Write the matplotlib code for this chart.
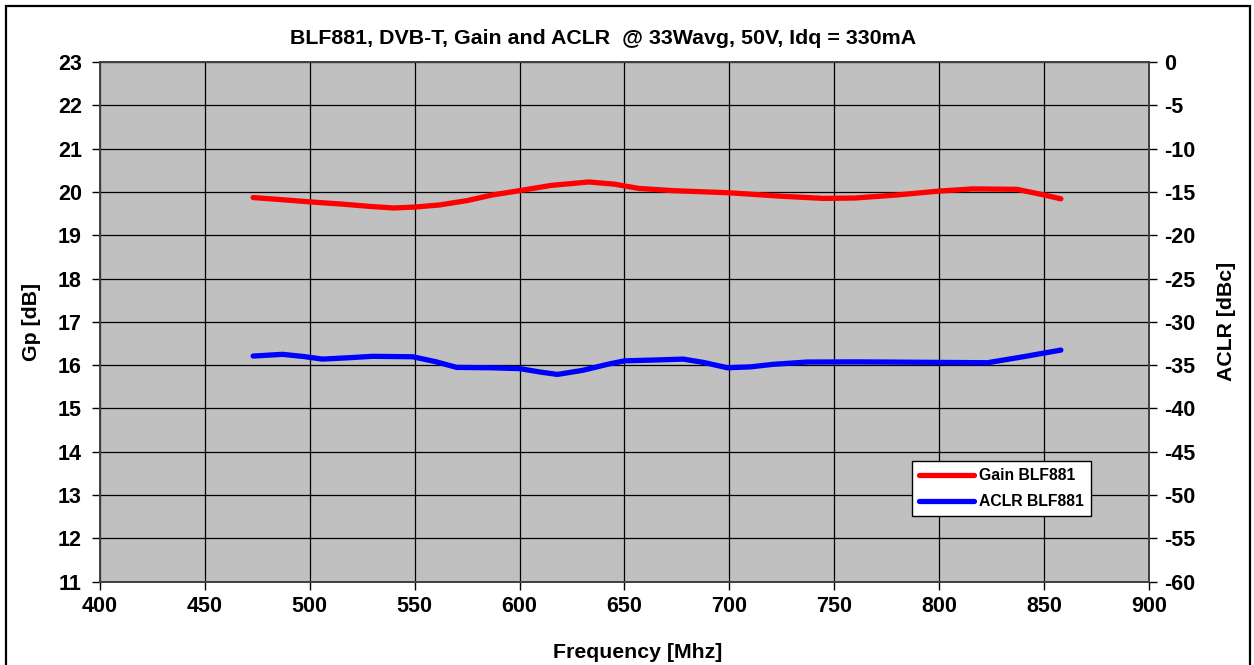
import numpy as np
import matplotlib.pyplot as plt
from matplotlib.patches import Rectangle

plt.rcParams['font.family'] = ['Liberation Sans', 'DejaVu Sans']
plt.rcParams['font.weight'] = 'bold'
plt.rcParams['axes.unicode_minus'] = False

# data
freq_gain = [473, 487, 500, 515, 530, 540, 550, 562, 575, 587, 600, 615, 633, 645,
             657, 673, 700, 725, 745, 760, 780, 800, 816, 837, 850, 858]
gain = [19.87, 19.82, 19.77, 19.72, 19.66, 19.63, 19.65, 19.70, 19.80, 19.93, 20.03,
        20.15, 20.23, 20.18, 20.08, 20.03, 19.98, 19.90, 19.85, 19.86, 19.93, 20.02,
        20.07, 20.06, 19.93, 19.84]

freq_aclr = [473, 487, 497, 506, 518, 530, 549, 560, 570, 586, 600, 610, 618, 630,
             642, 650, 665, 678, 688, 699, 710, 721, 737, 760, 800, 823, 840, 858]
aclr = [-33.95, -33.75, -34.0, -34.3, -34.15, -33.98, -34.03, -34.6, -35.26, -35.3,
        -35.4, -35.8, -36.07, -35.6, -34.9, -34.5, -34.4, -34.3, -34.7, -35.3, -35.2,
        -34.9, -34.64, -34.62, -34.68, -34.72, -34.03, -33.26]

W, H = 1254, 665
fig = plt.figure(figsize=(W / 100, H / 100), dpi=100)
ax = fig.add_axes([100 / W, 1 - 581.7 / H, 1049 / W, 519.7 / H])
ax2 = ax.twinx()

ax.set_facecolor('#C0C0C0')
ax.set_xlim(400, 900)
ax.set_ylim(11, 23)
ax.set_xticks(np.arange(400, 901, 50))
ax.set_yticks(np.arange(11, 24, 1))
ax2.set_ylim(-60, 0)
ax2.set_yticks(np.arange(-60, 1, 5))
ax.grid(True, color='black', linewidth=0.9)
ax.set_axisbelow(True)

ax.tick_params(axis='x', labelsize=15.5, length=6, width=1, pad=4, colors='black')
ax.tick_params(axis='y', labelsize=15.5, length=6, width=1, pad=7, colors='black')
ax2.tick_params(axis='y', labelsize=15.5, length=6, width=1, pad=5)

for a in (ax, ax2):
    for sp in a.spines.values():
        sp.set_color('#404040')
        sp.set_linewidth(1.2)

g_line, = ax.plot(freq_gain, gain, color='#FF0000', linewidth=3.8,
                  solid_capstyle='round', solid_joinstyle='round', label='Gain BLF881')
a_line, = ax2.plot(freq_aclr, aclr, color='#0000FF', linewidth=3.8,
                   solid_capstyle='round', solid_joinstyle='round', label='ACLR BLF881')

ax.set_ylabel('Gp [dB]', fontsize=15.3, fontweight='bold')
ax.yaxis.set_label_coords(-0.056, 0.5)
ax2.set_ylabel('ACLR [dBc]', fontsize=15.3, fontweight='bold')
ax2.yaxis.set_label_coords(1.0645, 0.5)
fig.text(638 / W, 1 - 652 / H, 'Frequency [Mhz]', fontsize=15.3, fontweight='bold',
         ha='center', va='center')
fig.text(603 / W, 1 - 39 / H, 'BLF881, DVB-T, Gain and ACLR  @ 33Wavg, 50V, Idq = 330mA',
         fontsize=15.4, fontweight='bold', ha='center', va='center')

leg = ax2.legend(handles=[g_line, a_line], loc='upper left',
                 bbox_to_anchor=(0.774, 0.232), borderaxespad=0, fontsize=11.3,
                 handlelength=3.5, labelspacing=0.7, fancybox=False, framealpha=1,
                 edgecolor='black', borderpad=0.45, handletextpad=0.35)
leg.get_frame().set_linewidth(1.0)

fig.add_artist(Rectangle((6 / W, -0.05), (1250 - 6) / W, 1.05 - 6 / H,
                         transform=fig.transFigure, fill=False, edgecolor='black',
                         linewidth=1.6))

fig.savefig('out.png', dpi=100)
